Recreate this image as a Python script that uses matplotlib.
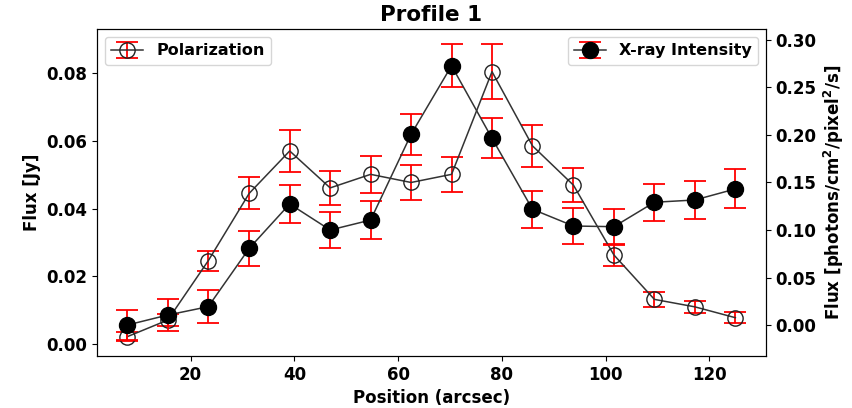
import numpy as np
import matplotlib
matplotlib.use("Agg")
from matplotlib import pyplot as plt

# positions along the profile (arcsec)
position = [7.8, 15.6, 23.4, 31.3, 39.1, 46.9, 54.7, 62.5,
            70.3, 78.1, 85.9, 93.8, 101.6, 109.4, 117.2, 125.0]

# polarization flux (Jy), left axis
pol_flux = [0.0022, 0.0071, 0.0246, 0.0445, 0.0570, 0.0461, 0.0501, 0.0477,
            0.0501, 0.0804, 0.0585, 0.0469, 0.0263, 0.0132, 0.0110, 0.0078]
pol_err = [0.0014, 0.0018, 0.0030, 0.0047, 0.0061, 0.0049, 0.0054, 0.0051,
           0.0051, 0.0081, 0.0063, 0.0051, 0.0031, 0.0022, 0.0018, 0.0016]

# x-ray intensity (photons/cm^2/pixel^2/s), right axis
xray_flux = [0.0000, 0.0105, 0.0193, 0.0807, 0.1274, 0.1000, 0.1105, 0.2007,
             0.2729, 0.1965, 0.1218, 0.1042, 0.1035, 0.1292, 0.1316, 0.1432]
xray_err = [0.0160, 0.0165, 0.0172, 0.0187, 0.0197, 0.0190, 0.0197, 0.0213,
            0.0228, 0.0210, 0.0197, 0.0190, 0.0190, 0.0197, 0.0203, 0.0205]

plt.rcParams["font.weight"] = "bold"
plt.rcParams["axes.labelweight"] = "bold"
plt.rcParams["axes.titleweight"] = "bold"

fig = plt.figure(figsize=(8.52, 4.08), dpi=100)
ax = fig.add_axes([0.1138, 0.1275, 0.7852, 0.8015])

ax.errorbar(position, pol_flux, yerr=pol_err, fmt="o", ls="-", color="#333333",
            mfc="none", mec="#222222", ms=11, lw=1.1,
            ecolor="red", elinewidth=1.3, capsize=8, capthick=1.3,
            label="Polarization")
ax.set_xlim(1.95, 130.9)
ax.set_ylim(-0.0035, 0.093)
ax.set_xlabel("Position (arcsec)", fontsize=12)
ax.set_ylabel("Flux [Jy]", fontsize=12)
ax.set_title("Profile 1", fontsize=15.5)
ax.tick_params(labelsize=12)
ax.legend(loc="upper left", fontsize=11.5)

ax2 = ax.twinx()
ax2.errorbar(position, xray_flux, yerr=xray_err, fmt="o", ls="-", color="#333333",
             mfc="black", mec="black", ms=11.5, lw=1.1,
             ecolor="red", elinewidth=1.3, capsize=8, capthick=1.3,
             label="X-ray Intensity")
ax2.set_ylim(-0.0326, 0.3116)
ax2.set_ylabel("Flux [photons/cm$^2$/pixel$^2$/s]", fontsize=12)
ax2.tick_params(labelsize=12)
ax2.legend(loc="upper right", fontsize=11.5)

fig.savefig("out.png", dpi=100)
